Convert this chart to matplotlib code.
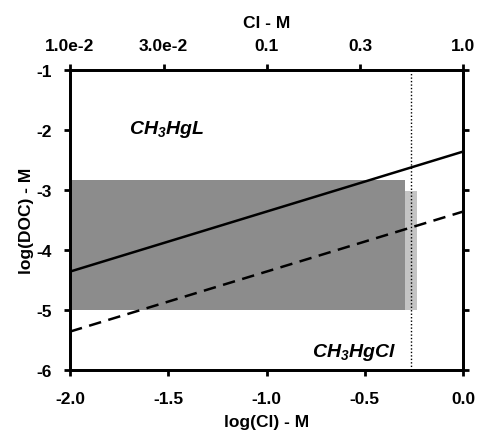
import matplotlib
matplotlib.use("Agg")
import matplotlib.pyplot as plt
import numpy as np

plt.rcParams['font.family'] = ['Liberation Sans', 'DejaVu Sans']
plt.rcParams['font.weight'] = 'bold'
plt.rcParams['mathtext.fontset'] = 'custom'
plt.rcParams['mathtext.it'] = 'Liberation Sans:style=italic:weight=bold'
plt.rcParams['mathtext.rm'] = 'Liberation Sans:style=italic:weight=bold'
plt.rcParams['mathtext.bf'] = 'Liberation Sans:style=italic:weight=bold'

# data
log_cl = [-2.0, 0.0]
solid_line = [-4.36, -2.36]
dashed_line = [-5.36, -3.36]
box_dark = dict(x0=-2.0, x1=-0.295, y0=-5.0, y1=-2.83)
box_light = dict(x0=-0.295, x1=-0.235, y0=-5.0, y1=-3.02)
seawater_logcl = -0.265
top_tick_values = [0.01, 0.03, 0.1, 0.3, 1.0]
top_tick_labels = ["1.0e-2", "3.0e-2", "0.1", "0.3", "1.0"]
x_ticks = [-2.0, -1.5, -1.0, -0.5, 0.0]
y_ticks = [-6, -5, -4, -3, -2, -1]

fig = plt.figure(figsize=(4.79, 4.35), dpi=100)
ax = fig.add_axes([70/479, 1-371/435, (463-70)/479, (371-71)/435])

ax.fill_between([box_dark['x0'], box_dark['x1']], box_dark['y0'], box_dark['y1'],
                color='#8c8c8c', lw=0, zorder=1)
ax.fill_between([box_light['x0'], box_light['x1']], box_light['y0'], box_light['y1'],
                color='#c4c4c4', lw=0, zorder=1)
ax.plot(log_cl, solid_line, color='black', lw=1.8, zorder=3)
ax.plot(log_cl, dashed_line, color='black', lw=1.8, ls=(0, (5, 3)), zorder=3)
ax.axvline(seawater_logcl, color='black', lw=1.0, ls=(0, (1, 1.5)), zorder=3)

ax.text(-1.7, -1.98, r'$CH_3HgL$', fontsize=14, va='center', ha='left')
ax.text(-0.77, -5.7, r'$CH_3HgCl$', fontsize=14, va='center', ha='left')

fs = 12.5
ax.set_xlim(-2.0, 0.0)
ax.set_ylim(-6, -1)
ax.set_xticks(x_ticks)
ax.set_xticklabels([f"{v:.1f}" for v in x_ticks])
ax.set_yticks(y_ticks)
ax.set_yticklabels([str(v) for v in y_ticks])
ax.tick_params(axis='both', labelsize=fs, width=2, length=4, direction='out',
               right=True)
ax.tick_params(axis='x', pad=11)
ax.tick_params(axis='y', pad=9)
ax.set_xlabel('log(Cl) - M', fontsize=fs, fontweight='bold', labelpad=6)
ax.set_ylabel('log(DOC) - M', fontsize=fs, fontweight='bold', labelpad=2)
for s in ax.spines.values():
    s.set_linewidth(2)

top = ax.twiny()
top.set_xlim(-2.0, 0.0)
top.set_xticks(np.log10(top_tick_values))
top.set_xticklabels(top_tick_labels)
top.tick_params(axis='x', labelsize=fs, width=2, length=4, direction='out', pad=8)
top.set_xlabel('Cl - M', fontsize=fs, fontweight='bold', labelpad=8)
for s in top.spines.values():
    s.set_linewidth(2)

fig.savefig('out.png', dpi=100)
